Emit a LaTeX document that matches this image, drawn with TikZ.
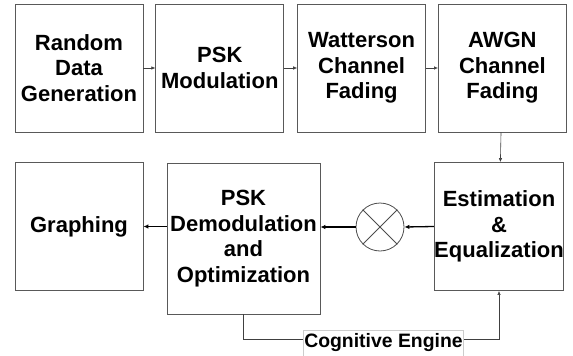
\documentclass[tikz,border=0pt]{standalone}
\usepackage{fontspec}
\setmainfont{Liberation Sans}
\usetikzlibrary{arrows.meta,positioning}
\tikzset{
  blockbox/.style={
    draw=black!65,
    line width=0.8pt,
    align=center,
    minimum width=128pt,
    minimum height=128pt,
    inner sep=0pt,
    font=\fontsize{22}{25.5}\selectfont\bfseries
  },
  mixer/.style={draw=black!70, circle, minimum size=48pt, inner sep=0pt, line width=0.8pt},
  enginelabel/.style={
    fill=white,
    draw=black!20,
    line width=0.5pt,
    inner sep=1pt,
    minimum height=26pt,
    font=\fontsize{19.4}{21}\selectfont\bfseries
  },
  thinarrow/.style={-{Latex[length=4pt,width=3.5pt]}, draw=black!75, line width=0.6pt},
  boldarrow/.style={-{Latex[length=5pt,width=4.5pt]}, line width=1.3pt}
}

\begin{document}
\begin{tikzpicture}[x=1pt, y=-1pt]
  \useasboundingbox (0,0) rectangle (573,356);

  % transmit chain
  \node[blockbox] (randgen) at (79,68) {Random\\Data\\Generation};
  \node[blockbox, right=12pt of randgen] (pskmod) {PSK\\Modulation};
  \node[blockbox, right=13pt of pskmod] (watterson) {Watterson\\Channel\\Fading};
  \node[blockbox, right=12pt of watterson] (awgn) {AWGN\\Channel\\Fading};

  % receive chain
  \node[blockbox] (graphing) at (79,226.5) {Graphing};
  \node[blockbox, minimum width=153pt, minimum height=151pt] (pskdemod) at (243.5,238.5) {PSK\\Demodulation\\and\\Optimization};
  \node[mixer] (mult) at (380,227) {};
  \node[blockbox] (esteq) at (499,226.5) {Estimation\\\&\\Equalization};
  \draw[black!70, line width=0.8pt] (mult.north west) -- (mult.south east)
                                    (mult.north east) -- (mult.south west);

  \draw[thinarrow] (randgen) -- (pskmod);
  \draw[thinarrow] (pskmod) -- (watterson);
  \draw[thinarrow] (watterson) -- (awgn);
  \draw[thinarrow] (awgn) -- (esteq);
  \draw[boldarrow] (esteq.west) -- (mult.east);
  \draw[boldarrow] (mult.west) -- (mult.west -| pskdemod.east);
  \draw[boldarrow] (pskdemod.west |- graphing) -- (graphing.east);

  % feedback loop
  \draw[thinarrow] (pskdemod.south) -- ++(0,25) -| (esteq.south);
  \node[enginelabel] (engine) at (383.5,343) {Cognitive Engine};
\end{tikzpicture}
\end{document}
